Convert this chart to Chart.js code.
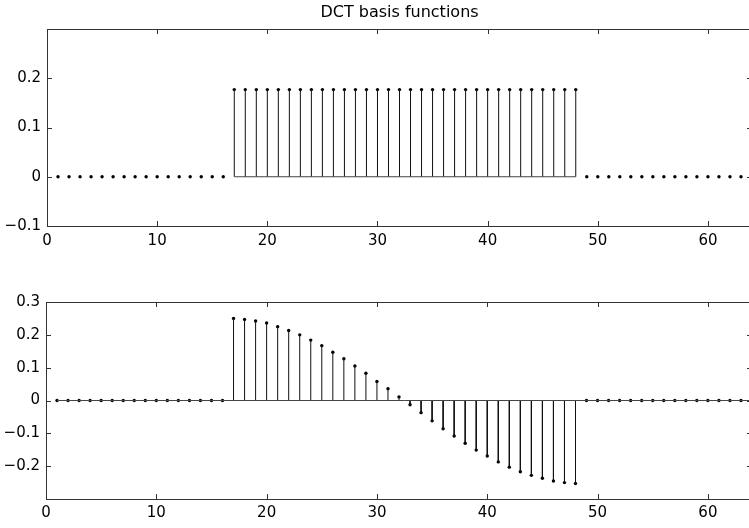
<!DOCTYPE html>
<html>
<head>
<meta charset="utf-8">
<script src="https://cdn.jsdelivr.net/npm/chart.js@4/dist/chart.umd.min.js"></script>
<style>
html,body{margin:0;padding:0;background:#fff;overflow:hidden;width:749px;height:528px;}
#c1{position:absolute;left:0;top:0;}
#c2{position:absolute;left:0;top:250px;}
</style>
</head>
<body>
<canvas id="c1" width="756" height="250"></canvas>
<canvas id="c2" width="756" height="278"></canvas>
<script>
// ---------------- data ----------------
const titleText = "DCT basis functions";
const sampleIndex = [1,2,3,4,5,6,7,8,9,10,11,12,13,14,15,16,17,18,19,20,21,22,23,24,25,26,27,28,29,30,31,32,
                     33,34,35,36,37,38,39,40,41,42,43,44,45,46,47,48,49,50,51,52,53,54,55,56,57,58,59,60,61,62,63,64];
const topValues = [0,0,0,0,0,0,0,0,0,0,0,0,0,0,0,0,
                   0.177,0.177,0.177,0.177,0.177,0.177,0.177,0.177,0.177,0.177,0.177,0.177,0.177,0.177,0.177,0.177,
                   0.177,0.177,0.177,0.177,0.177,0.177,0.177,0.177,0.177,0.177,0.177,0.177,0.177,0.177,0.177,0.177,
                   0,0,0,0,0,0,0,0,0,0,0,0,0,0,0,0];
const bottomValues = [0,0,0,0,0,0,0,0,0,0,0,0,0,0,0,0,
                   0.250,0.247,0.242,0.236,0.225,0.213,0.200,0.184,0.167,0.147,0.127,0.105,0.083,0.058,0.036,0.011,
                   -0.013,-0.037,-0.062,-0.086,-0.108,-0.130,-0.151,-0.169,-0.187,-0.203,-0.217,-0.228,-0.237,-0.245,-0.250,-0.253,
                   0,0,0,0,0,0,0,0,0,0,0,0,0,0,0,0];
const xTickValues = [0,10,20,30,40,50,60];
const xTickLabels = ["0","10","20","30","40","50","60"];
const topYTicks = [-0.1,0,0.1,0.2,0.3];
const topYLabels = ["\u22120.1","0","0.1","0.2",""];
const bottomYTicks = [-0.3,-0.2,-0.1,0,0.1,0.2,0.3];
const bottomYLabels = ["","\u22120.2","\u22120.1","0","0.1","0.2","0.3"];

// ---------------- helpers ----------------
const FONT = "'DejaVu Sans', 'Liberation Sans', Arial, sans-serif";
Chart.defaults.font.family = FONT;
Chart.defaults.color = '#000';

function stemPoints(xs, ys){
  const pts = [];
  xs.forEach((x,i)=>{
    if (ys[i] !== 0){
      pts.push({x:x,y:0},{x:x,y:ys[i]},{x:x,y:null});
    }
  });
  return pts;
}
function markerPoints(xs, ys){ return xs.map((x,i)=>({x:x,y:ys[i]})); }
function baselinePoints(xs, ys, full){
  if (full) return [{x:xs[0],y:0},{x:xs[xs.length-1],y:0}];
  const nz = xs.filter((x,i)=>ys[i]!==0);
  return [{x:nz[0],y:0},{x:nz[nz.length-1],y:0}];
}

const boxPlugin = {
  id:'matlabBox',
  afterDraw(chart){
    const {ctx, chartArea:a, scales} = chart;
    ctx.save();
    ctx.strokeStyle = '#333';
    ctx.lineWidth = 1;
    ctx.strokeRect(Math.round(a.left)+0.5, Math.round(a.top)+0.5, Math.round(a.right-a.left), Math.round(a.bottom-a.top));
    const tl = 5;
    ctx.beginPath();
    scales.x.ticks.forEach(t=>{
      const px = Math.round(scales.x.getPixelForValue(t.value))+0.5;
      ctx.moveTo(px, a.bottom); ctx.lineTo(px, a.bottom - tl);
      ctx.moveTo(px, a.top); ctx.lineTo(px, a.top + tl);
    });
    scales.y.ticks.forEach(t=>{
      const py = Math.round(scales.y.getPixelForValue(t.value))+0.5;
      ctx.moveTo(a.left, py); ctx.lineTo(a.left + tl, py);
      ctx.moveTo(a.right, py); ctx.lineTo(a.right - tl, py);
    });
    ctx.stroke();
    ctx.restore();
  }
};

function makeChart(id, values, yTicks, yLabels, opts){
  return new Chart(document.getElementById(id), {
    type:'line',
    data:{
      datasets:[
        { data: baselinePoints(sampleIndex, values, opts.fullBaseline), borderColor:'#444', borderWidth:1,
          pointRadius:0, fill:false, tension:0 },
        { data: stemPoints(sampleIndex, values), borderColor:'#111', borderWidth:1,
          pointRadius:0, spanGaps:false, fill:false, tension:0 },
        { data: markerPoints(sampleIndex, values), showLine:false, pointRadius:1.7,
          pointBackgroundColor:'#000', pointBorderColor:'#000', pointBorderWidth:0 }
      ]
    },
    options:{
      responsive:false, animation:false, devicePixelRatio:1,
      layout:{ padding:{ left:0, right:2, top:opts.padTop, bottom:0 } },
      plugins:{
        legend:{display:false}, tooltip:{enabled:false},
        title: opts.title ? { display:true, text:opts.title, color:'#000', fullSize:false,
          font:{size:16, family:FONT, weight:'normal', lineHeight:1.0}, padding:{top:5,bottom:8} } : {display:false}
      },
      scales:{
        x:{ type:'linear', min:0, max:64,
            grid:{display:false, drawTicks:false}, border:{display:false},
            afterBuildTicks:(s)=>{ s.ticks = xTickValues.map(v=>({value:v})); },
            afterFit:(s)=>{ s.height = opts.xHeight; },
            ticks:{ padding:opts.xPad, maxRotation:0, autoSkip:false, font:{size:15},
              callback:(v,i)=>xTickLabels[i] } },
        y:{ type:'linear', min:yTicks[0], max:yTicks[yTicks.length-1],
            grid:{display:false, drawTicks:false}, border:{display:false},
            afterBuildTicks:(s)=>{ s.ticks = yTicks.map(v=>({value:v})); },
            afterFit:(s)=>{ s.width = opts.yWidth; },
            ticks:{ padding:6, autoSkip:false, font:{size:15},
              callback:(v,i)=>yLabels[i] } }
      }
    },
    plugins:[boxPlugin]
  });
}

makeChart('c1', topValues, topYTicks, topYLabels,
  {title:titleText, padTop:0, xHeight:24, xPad:6, yWidth:47, fullBaseline:false});
makeChart('c2', bottomValues, bottomYTicks, bottomYLabels,
  {title:null, padTop:52, xHeight:29, xPad:5, yWidth:46, fullBaseline:true});
</script>
</body>
</html>
